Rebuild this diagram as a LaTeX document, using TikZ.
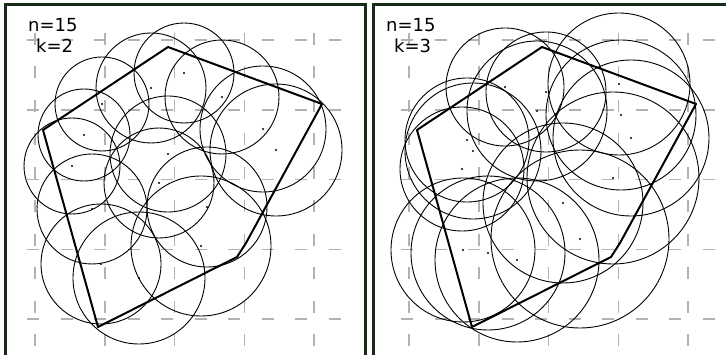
\documentclass[tikz,border=0pt]{standalone}
\usepackage{fontspec}
\setmainfont{DejaVu Sans}
\begin{document}
\begin{tikzpicture}[x=1pt,y=-1pt,
  frame/.style={draw={rgb,255:red,22;green,44;blue,22}, line width=3pt},
  gridline/.style={draw={rgb,255:red,178;green,178;blue,178}, line width=1.6pt, dash pattern=on 12pt off 21.5pt},
  ring/.style={draw=black, line width=0.9pt},
  hull/.style={draw=black, line width=2pt, line join=round},
  dot/.style={fill=black, circle, inner sep=0pt, minimum size=2.4pt},
  lbl/.style={font=\fontsize{18}{21}\selectfont, anchor=base west, inner sep=0pt}]
\useasboundingbox (0,0) rectangle (726,355);
\clip (0,0) rectangle (726,355);
\fill[white] (0,0) rectangle (726,355);
% grids
\foreach \s in {0,374}{
  \foreach \i in {0,...,4}{
    \draw[gridline] ({\s+27},{40+69.8*\i}) -- ({\s+343},{40+69.8*\i});
    \draw[gridline] ({\s+35+69.8*\i},33) -- ({\s+35+69.8*\i},347);
  }
}
% panel 1 points
\coordinate (A) at (184,73);
\coordinate (B) at (151,88);
\coordinate (C) at (102,104);
\coordinate (D) at (84,135);
\coordinate (E) at (168,154);
\coordinate (F) at (72,166);
\coordinate (G) at (222,97);
\coordinate (H) at (263,129);
\coordinate (I) at (276,150);
\coordinate (J) at (159,183);
\coordinate (K) at (92,209);
\coordinate (L) at (101,264);
\coordinate (M) at (139,278);
\coordinate (N) at (207,207);
\coordinate (O) at (201,246);
\foreach \p/\r in {A/50,B/55,C/47,D/46,E/58,F/48,G/57,H/63,I/66,J/55,K/55,L/60,M/66,N/60,O/70}{
  \draw[ring] (\p) circle[radius=\r pt];
  \node[dot] at (\p) {};
}
\draw[hull] (43,130) -- (168,47) -- (322,104) -- (246,243) -- (237,257) -- (98,327) -- cycle;
% panel 2 points
\coordinate (a) at (505,87);
\coordinate (b) at (546,92);
\coordinate (c) at (537,111);
\coordinate (d) at (467,140);
\coordinate (e) at (473,151);
\coordinate (f) at (462,169);
\coordinate (g) at (619,84);
\coordinate (h) at (621,115);
\coordinate (i) at (631,138);
\coordinate (j) at (613,178);
\coordinate (k) at (463,250);
\coordinate (l) at (488,253);
\coordinate (m) at (517,260);
\coordinate (n) at (563,203);
\coordinate (o) at (580,239);
\foreach \p/\r in {a/59,b/60,c/70,d/62,e/68,f/62,g/71,h/75,i/78,j/86,k/72,l/77,m/82,n/80,o/89}{
  \draw[ring] (\p) circle[radius=\r pt];
  \node[dot] at (\p) {};
}
\draw[hull] (417,130) -- (542,47) -- (696,104) -- (620,243) -- (611,257) -- (472,327) -- cycle;
% frames
\draw[frame] (5,5) rectangle (365.3,362);
\draw[frame] (373.7,5) rectangle (740,362);
% labels
\node[lbl] (n1) at (28,32) {n=15};
\node[lbl] (k1) at (36,53) {k=2};
\node[lbl] (n2) at (386,32) {n=15};
\node[lbl] (k2) at (394,53) {k=3};
\end{tikzpicture}
\end{document}
